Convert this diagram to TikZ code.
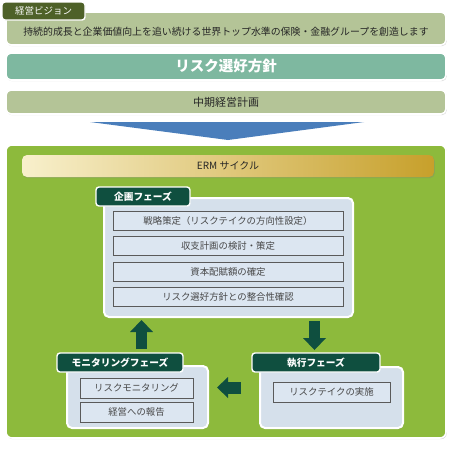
\documentclass[tikz,border=0pt]{standalone}
\usepackage{fontspec}
\usepackage{tikz}
\usetikzlibrary{arrows.meta,shadows}
\usepackage{xcolor}
\newfontfamily\jpfont{Noto Sans CJK JP}
\definecolor{Ink}{HTML}{262626}
\definecolor{Olive}{HTML}{B4C497}
\definecolor{OliveDark}{HTML}{4E6128}
\definecolor{Policy}{HTML}{7EB8A0}
\definecolor{Chevron}{HTML}{4A7EBB}
\definecolor{Field}{HTML}{8DBA3C}
\definecolor{PhaseDark}{HTML}{0F4F3F}
\definecolor{Panel}{HTML}{D5E0EB}
\definecolor{Item}{HTML}{DCE6F1}
\definecolor{ItemLine}{HTML}{5A5A5A}
\definecolor{GoldL}{HTML}{F8F0CC}
\definecolor{GoldR}{HTML}{C7A02B}

\begin{document}
\begin{tikzpicture}[x=1pt,y=-1pt,
  every node/.style={font=\jpfont\fontsize{9.5}{11}\selectfont,text=Ink,inner sep=0pt},
  band/.style={rounded corners=5pt,draw=white,line width=1.6pt,
    drop shadow={shadow xshift=0.8pt,shadow yshift=-1.2pt,opacity=0.3}},
  tab/.style={rounded corners=3pt,draw=white,line width=1.4pt,fill=PhaseDark,
    text=white,font=\jpfont\bfseries\fontsize{9.7}{11}\selectfont},
  panel/.style={rounded corners=5pt,fill=Panel,draw=white,line width=2pt,
    drop shadow={shadow xshift=0.8pt,shadow yshift=-1.2pt,opacity=0.3}},
  item/.style={fill=Item,draw=ItemLine,line width=0.6pt,text=Ink!85,
    font=\jpfont\fontsize{9.4}{11}\selectfont},
  blockarrow/.style={PhaseDark,line width=11pt,
    -{Triangle[length=12pt,width=23pt,line width=0pt]}}]
\useasboundingbox (0,0) rectangle (454,448);
\fill[white] (0,0) rectangle (454,448);
% vision, policy, plan
\node[band,fill=Olive,minimum width=440,minimum height=33] (vision) at (226,28.5) {};
\node[font=\jpfont\fontsize{9.9}{11}\selectfont] (visiontext) at (226,32) {持続的成長と企業価値向上を追い続ける世界トップ水準の保険・金融グループを創造します};
\node[tab,fill=OliveDark,font=\jpfont\fontsize{9.5}{11}\selectfont,minimum width=83,minimum height=18] (visiontab) at (43.5,11) {経営ビジョン};
\node[band,fill=Policy,minimum width=440,minimum height=27,text=white,
  font=\jpfont\bfseries\fontsize{14.5}{16}\selectfont] (policy) at (226,66.5) {リスク選好方針};
\node[band,fill=Olive,minimum width=440,minimum height=24,
  font=\jpfont\fontsize{11}{13}\selectfont] (plan) at (226,102) {中期経営計画};
\coordinate (chevL) at (90,122);
\coordinate (chevR) at (364,122);
\coordinate (chevT) at (228,140);
\fill[Chevron] (chevL) -- (chevR) -- (chevT) -- cycle;
% ERM cycle
\node[band,fill=Field,rounded corners=6pt,minimum width=440,minimum height=293] (field) at (226,291.5) {};
\node[band,left color=GoldL,right color=GoldR,draw=none,rounded corners=5pt,
  font=\jpfont\fontsize{10}{12}\selectfont,minimum width=412,minimum height=22] (erm) at (228,166) {ERM サイクル};
% planning
\node[panel,minimum width=249,minimum height=119] (planpanel) at (228.5,257.5) {};
\node[tab,minimum width=94,minimum height=19] (plantab) at (143,196.5) {企画フェーズ};
\node[item,minimum width=230,minimum height=19] (p1) at (228,221) {戦略策定（リスクテイクの方向性設定）};
\node[item,minimum width=230,minimum height=19] (p2) at (228,246) {収支計画の検討・策定};
\node[item,minimum width=230,minimum height=19] (p3) at (228,272) {資本配賦額の確定};
\node[item,minimum width=230,minimum height=19] (p4) at (228,297) {リスク選好方針との整合性確認};
% monitoring
\node[panel,minimum width=141,minimum height=62] (monpanel) at (137.5,397) {};
\node[tab,minimum width=126,minimum height=19] (montab) at (120,362.5) {モニタリングフェーズ};
\node[item,minimum width=113,minimum height=20] (m1) at (136.5,388) {リスクモニタリング};
\node[item,minimum width=113,minimum height=20] (m2) at (136.5,412) {経営への報告};
% execution
\node[panel,minimum width=143,minimum height=61] (execpanel) at (331.5,397.5) {};
\node[tab,minimum width=128,minimum height=19] (exectab) at (316,362.5) {執行フェーズ};
\node[item,minimum width=117,minimum height=20] (e1) at (331.5,392) {リスクテイクの実施};
% cycle arrows
\coordinate (upS) at (141.5,349);
\coordinate (upE) at (141.5,320);
\coordinate (dnS) at (314.5,321);
\coordinate (dnE) at (314.5,350);
\coordinate (ltS) at (241,387.5);
\coordinate (ltE) at (217,387.5);
\draw[blockarrow] (upS) -- (upE);
\draw[blockarrow] (dnS) -- (dnE);
\draw[blockarrow,line width=12pt,-{Triangle[length=11pt,width=21pt,line width=0pt]}] (ltS) -- (ltE);
\end{tikzpicture}
\end{document}
